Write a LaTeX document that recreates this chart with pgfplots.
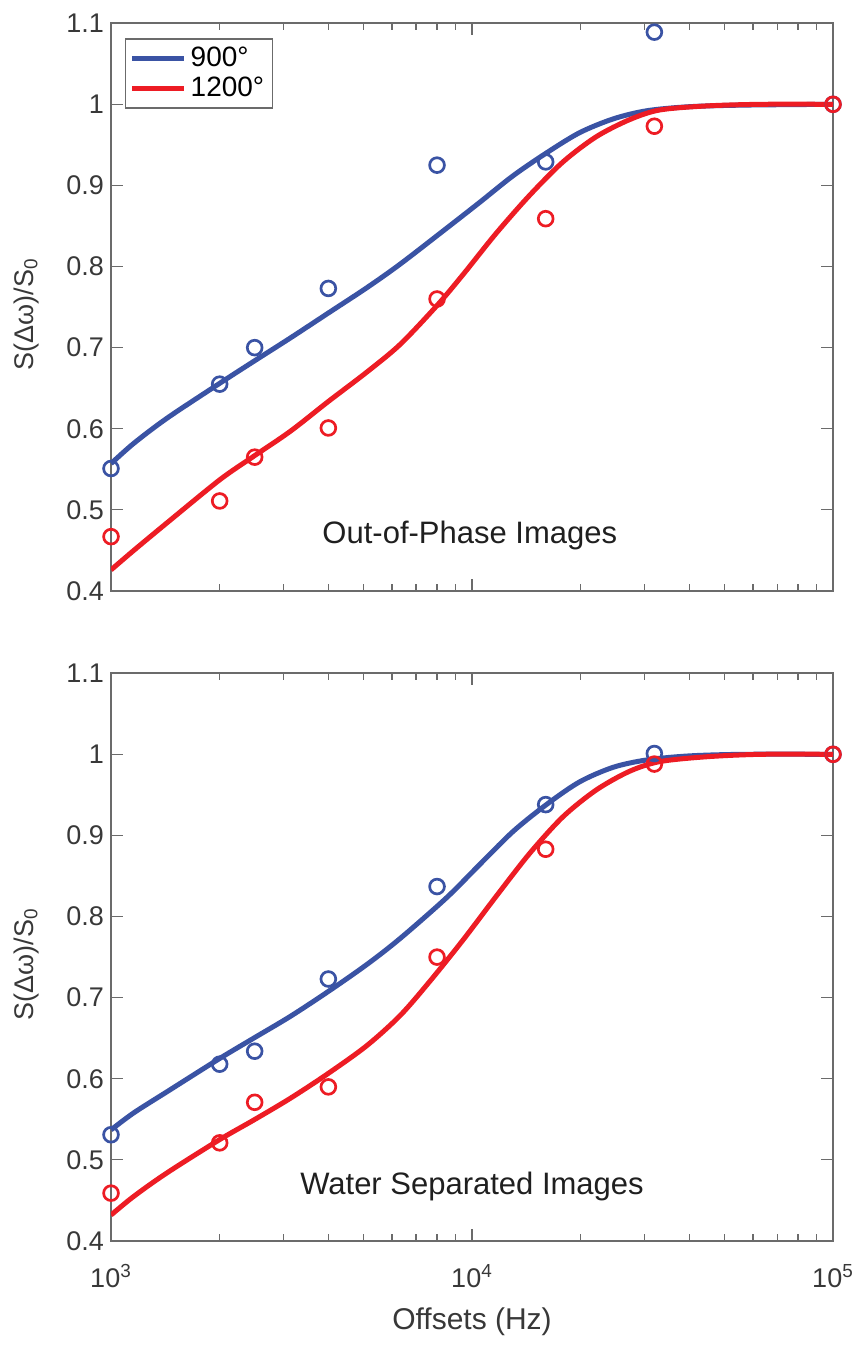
\documentclass[border=0pt]{standalone}
\usepackage{fontspec}
\setmainfont{Liberation Sans}
\usepackage{pgfplots}
\pgfplotsset{compat=1.18}
\definecolor{cblue}{HTML}{3A53A4}
\definecolor{cred}{HTML}{ED1C24}
\definecolor{axgray}{gray}{0.42}
\definecolor{txtgray}{gray}{0.22}
\pgfplotsset{
  legend image code/.code={\draw[#1] (0pt,0pt) -- (26pt,0pt);},
  myline/.style={line width=2.5pt, smooth, tension=0.5, forget plot},
  mymarks/.style={only marks, mark=o, mark size=3.7pt, mark options={line width=1.35pt, solid}, forget plot},
}
\begin{document}
\begin{tikzpicture}
% top axis
\begin{axis}[at={(55.5pt,382pt)}, anchor=south west,
  scale only axis, width=361pt, height=283.9pt,
  xmode=log, xmin=1000, xmax=100000, ymin=0.4, ymax=1.1,
  ytick={0.4,0.5,0.6,0.7,0.8,0.9,1.0,1.1},
  yticklabels={0.4,0.5,0.6,0.7,0.8,0.9,1,1.1},
  xtick={1000,10000,100000},
  xticklabels={},
  axis line style={axgray, line width=0.8pt},
  every tick/.append style={axgray, line width=0.6pt},
  major tick length=6pt, minor tick length=3.5pt,
  tick label style={font=\fontsize{13.5}{15}\selectfont, text=txtgray},
  ylabel={S(Δω)/S\textsubscript{0}},
  ylabel style={font=\fontsize{13.5}{16}\selectfont, text=txtgray, at={(axis description cs:-0.1177,0.487)}, anchor=center},
  legend style={at={(rel axis cs:0.0194,0.9736)}, anchor=north west, draw=axgray, line width=0.7pt,
     font=\fontsize{14}{16}\selectfont, inner xsep=2pt, inner ysep=2pt, row sep=0pt, cells={anchor=west}},
]
\addlegendimage{cblue, line width=2.5pt}
\addlegendentry{900°}
\addlegendimage{cred, line width=2.5pt}
\addlegendentry{1200°}
\addplot[cblue, myline] coordinates {(1000,0.557)(1156,0.582)(1429,0.613)(2000,0.656)(2483,0.683)(3141,0.712)(4009,0.743)(5117,0.774)(6324,0.803)(8492,0.847)(10495,0.879)(13002,0.912)(16069,0.940)(19861,0.965)(24604,0.982)(30409,0.992)(39811,0.997)(56234,0.999)(100000,1.0)};
\addplot[cred, myline] coordinates {(1000,0.426)(1156,0.450)(1429,0.484)(2000,0.537)(2483,0.566)(3141,0.597)(4009,0.634)(5117,0.670)(6324,0.704)(8000,0.752)(9441,0.790)(11668,0.841)(14454,0.888)(17865,0.929)(22080,0.960)(27290,0.981)(33113,0.993)(44668,0.998)(63096,1.0)(100000,1.0)};
\addplot[cblue, mymarks] coordinates {(1000,0.551)(2000,0.655)(2500,0.700)(4000,0.773)(8000,0.925)(16000,0.929)(32000,1.089)(100000,1.0)};
\addplot[cred, mymarks] coordinates {(1000,0.467)(2000,0.511)(2500,0.565)(4000,0.601)(8000,0.760)(16000,0.859)(32000,0.973)(100000,1.0)};
\node[font=\fontsize{15.5}{18}\selectfont, text=black!88] at (axis cs:9860,0.468) {Out-of-Phase Images};
\end{axis}
% bottom axis
\begin{axis}[at={(55.5pt,57pt)}, anchor=south west,
  scale only axis, width=361pt, height=283.9pt,
  xmode=log, xmin=1000, xmax=100000, ymin=0.4, ymax=1.1,
  ytick={0.4,0.5,0.6,0.7,0.8,0.9,1.0,1.1},
  yticklabels={0.4,0.5,0.6,0.7,0.8,0.9,1,1.1},
  xtick={1000,10000,100000},
  xticklabels={10\textsuperscript{3},10\textsuperscript{4},10\textsuperscript{5}},
  xticklabel style={yshift=-8pt},
  axis line style={axgray, line width=0.8pt},
  every tick/.append style={axgray, line width=0.6pt},
  major tick length=6pt, minor tick length=3.5pt,
  tick label style={font=\fontsize{13.5}{15}\selectfont, text=txtgray},
  ylabel={S(Δω)/S\textsubscript{0}},
  ylabel style={font=\fontsize{13.5}{16}\selectfont, text=txtgray, at={(axis description cs:-0.1177,0.487)}, anchor=center},
  xlabel={Offsets (Hz)},
  xlabel style={font=\fontsize{15}{17}\selectfont, text=txtgray, at={(axis description cs:0.5,-0.1427)}, anchor=center},
]
\addplot[cblue, myline] coordinates {(1000,0.537)(1156,0.558)(1429,0.584)(2000,0.625)(2483,0.650)(3141,0.677)(4009,0.708)(5117,0.741)(6324,0.773)(8492,0.823)(10495,0.864)(13002,0.905)(16069,0.938)(19861,0.966)(24604,0.984)(30409,0.993)(39811,0.998)(56234,1.0)(100000,1.0)};
\addplot[cred, myline] coordinates {(1000,0.432)(1156,0.455)(1429,0.484)(2000,0.525)(2483,0.549)(3141,0.576)(4009,0.607)(5117,0.641)(6324,0.678)(7638,0.720)(9441,0.771)(11668,0.825)(14454,0.878)(17865,0.923)(22080,0.956)(27290,0.979)(33113,0.991)(44668,0.997)(63096,1.0)(100000,1.0)};
\addplot[cblue, mymarks] coordinates {(1000,0.531)(2000,0.618)(2500,0.634)(4000,0.723)(8000,0.837)(16000,0.938)(32000,1.001)(100000,1.0)};
\addplot[cred, mymarks] coordinates {(1000,0.459)(2000,0.521)(2500,0.571)(4000,0.590)(8000,0.750)(16000,0.883)(32000,0.988)(100000,1.0)};
\node[font=\fontsize{15.5}{18}\selectfont, text=black!88] at (axis cs:10000,0.467) {Water Separated Images};
\end{axis}
\pgfresetboundingbox
\path[use as bounding box] (0,0) rectangle (433pt,677.5pt);
\end{tikzpicture}
\end{document}
